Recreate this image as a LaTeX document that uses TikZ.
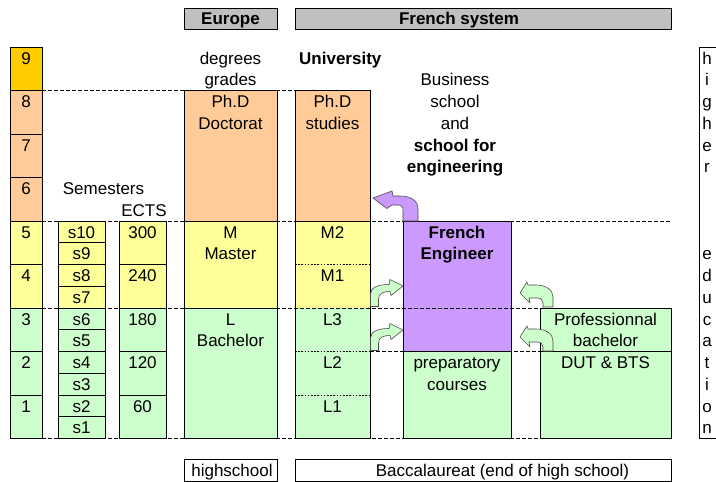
\documentclass[tikz,border=0pt]{standalone}
\usepackage{fontspec}
\setmainfont{Liberation Sans}
\definecolor{peach}{HTML}{FFCC99}
\definecolor{lyellow}{HTML}{FFFF99}
\definecolor{lgreen}{HTML}{CCFFCC}
\definecolor{lpurple}{HTML}{CC99FF}
\definecolor{gold}{HTML}{FFCC00}
\definecolor{hgrey}{HTML}{C0C0C0}
\tikzset{
  cell/.style={draw=black, line width=0.8pt},
  lbl/.style={font=\fontsize{17}{20}\selectfont, anchor=base, inner sep=0pt},
  blbl/.style={font=\fontsize{17}{20}\selectfont\bfseries, anchor=base, inner sep=0pt},
  hdr/.style={cell, fill=hgrey, inner sep=0pt, anchor=north west},
  foot/.style={cell, fill=white, inner sep=0pt, anchor=north west},
  sepline/.style={line width=0.8pt, dash pattern=on 4pt off 2pt},
  dotline/.style={line width=0.8pt, dash pattern=on 1.6pt off 1.6pt},
  garrow/.style={fill=lgreen, draw=black!70, line width=0.6pt, line join=round},
  parrow/.style={fill=lpurple, draw=black!70, line width=0.6pt, line join=round},
}
\begin{document}
\begin{tikzpicture}[x=1pt,y=-1pt]
\useasboundingbox (0,0) rectangle (716,482);
\clip (0,0) rectangle (716,482);
\fill[white] (0,0) rectangle (716,482);

% headers
\node[hdr, minimum width=93pt, minimum height=21pt] (europe) at (184,8) {};
\node[blbl] (europetxt) at (230.5,24) {Europe};
\node[hdr, minimum width=376pt, minimum height=21pt] (french) at (295,8) {};
\node[blbl] (frenchtxt) at (459,24) {French system};

% year column
\foreach \k/\c/\n in {0/gold/9, 2/peach/8, 4/peach/7, 6/peach/6, 8/lyellow/5, 10/lyellow/4, 12/lgreen/3, 14/lgreen/2, 16/lgreen/1}{
  \draw[cell, fill=\c] (10,{47+21.75*\k}) rectangle (42,{47+21.75*(\k+2)});
  \node[lbl] (year\n) at (26,{64+21.75*\k}) {\n};
}
% semesters
\foreach \k/\c/\n in {8/lyellow/10, 9/lyellow/9, 10/lyellow/8, 11/lyellow/7, 12/lgreen/6, 13/lgreen/5, 14/lgreen/4, 15/lgreen/3, 16/lgreen/2, 17/lgreen/1}{
  \draw[cell, fill=\c] (58,{47+21.75*\k}) rectangle (105,{47+21.75*(\k+1)});
  \node[lbl] (sem\n) at (81.5,{64+21.75*\k}) {s\n};
}
% ECTS
\foreach \k/\c/\n in {8/lyellow/300, 10/lyellow/240, 12/lgreen/180, 14/lgreen/120, 16/lgreen/60}{
  \draw[cell, fill=\c] (119,{47+21.75*\k}) rectangle (166,{47+21.75*(\k+2)});
  \node[lbl] (ects\n) at (142.5,{64+21.75*\k}) {\n};
}
% Europe column
\draw[cell, fill=peach] (184,90.5) rectangle (277,221);
\draw[cell, fill=lyellow] (184,221) rectangle (277,308);
\draw[cell, fill=lgreen] (184,308) rectangle (277,438.5);
% University column
\draw[cell, fill=peach] (295,90.5) rectangle (370,221);
\fill[lyellow] (295,221) rectangle (370,308);
\fill[lgreen] (295,308) rectangle (370,438.5);
\draw[cell] (295,221) rectangle (370,438.5);
\draw[dotline] (295,264.5) -- (370,264.5);
\draw[dotline] (295,351.5) -- (370,351.5);
\draw[dotline] (295,395) -- (370,395);
% French engineer column
\draw[cell, fill=lpurple] (403,221) rectangle (511,351.5);
\draw[cell, fill=lgreen] (403,351.5) rectangle (511,438.5);
% professional column
\draw[cell, fill=lgreen] (540,308) rectangle (671,438.5);
\draw[cell] (540,351.5) -- (671,351.5);
% right box
\draw[cell, fill=white] (699,47) rectangle (730,438.5);

% separators
\draw[sepline] (42,90.5) -- (295,90.5);
\draw[sepline] (42,221) -- (671,221);
\draw[sepline] (42,308) -- (540,308);
\draw[sepline] (370,351.5) -- (540,351.5);
\draw[sepline] (42,438.5) -- (671,438.5);

% footer
\node[foot, minimum width=93pt, minimum height=22pt] (highschool) at (184,459) {};
\node[lbl] (hstxt) at (232,476) {highschool};
\node[foot, minimum width=376pt, minimum height=22pt] (bac) at (295,459) {};
\node[lbl] (bactxt) at (502.5,476) {Baccalaureat (end of high school)};

% texts
\node[lbl] (degrees) at (230.5,64) {degrees};
\node[lbl] (grades) at (230.5,85.75) {grades};
\node[blbl, anchor=base west] (univ) at (299,64) {University};
\node[lbl] (business) at (455,85.75) {Business};
\node[lbl] (school) at (455,107.5) {school};
\node[lbl] (and) at (455,129.25) {and};
\node[blbl] (schoolfor) at (455,151) {school for};
\node[blbl] (engineering) at (455,172.75) {engineering};
\node[lbl] (semesters) at (103.5,194.5) {Semesters};
\node[lbl] (ectslbl) at (144,216.25) {ECTS};

\node[lbl] (phd) at (230.5,107.5) {Ph.D};
\node[lbl] (doctorat) at (230.5,129.25) {Doctorat};
\node[lbl] (m) at (230.5,238) {M};
\node[lbl] (master) at (230.5,259.75) {Master};
\node[lbl] (l) at (230.5,325) {L};
\node[lbl] (bachelor) at (230.5,346.75) {Bachelor};

\node[lbl] (phdu) at (332.5,107.5) {Ph.D};
\node[lbl] (studies) at (332.5,129.25) {studies};
\node[lbl] (m2) at (332.5,238) {M2};
\node[lbl] (m1) at (332.5,281.5) {M1};
\node[lbl] (l3) at (332.5,325) {L3};
\node[lbl] (l2) at (332.5,368.5) {L2};
\node[lbl] (l1) at (332.5,412) {L1};

\node[blbl] (fr) at (457,238) {French};
\node[blbl] (eng) at (457,259.75) {Engineer};
\node[lbl] (prep) at (457,368.5) {preparatory};
\node[lbl] (courses) at (457,390.25) {courses};

\node[lbl] (prof) at (605.5,325) {Professionnal};
\node[lbl] (pbach) at (605.5,346.75) {bachelor};
\node[lbl] (dut) at (605.5,368.5) {DUT \& BTS};

\foreach \k/\t in {0/h,1/i,2/g,3/h,4/e,5/r,9/e,10/d,11/u,12/c,13/a,14/t,15/i,16/o,17/n}{
  \node[lbl] (side\k) at (707,{64+21.75*\k}) {\t};
}

% curved arrows
\path[parrow] (418,221) -- (418,209) .. controls (418,200) and (410,196) .. (400,196) -- (393,196) -- (392,191) -- (373,198) -- (387,208.5) -- (392,205) -- (399,205) .. controls (402,205) and (403,207) .. (403,211) -- (403,221) -- cycle;
\foreach \dy in {0,44}{
  \begin{scope}[yshift={-\dy pt}]
  \path[garrow] (370.5,306.5) -- (370.5,294) .. controls (370.5,287.5) and (378,284.5) .. (389,284.5) -- (390,279.5) -- (403,286) -- (391,295.5) -- (390,291.5) .. controls (384,291.5) and (378.5,293) .. (378.5,299) -- (378.5,306.5) -- cycle;
  \path[garrow] (553,307) -- (553,297) .. controls (553,290) and (546,285) .. (536,285) -- (528,285) -- (527,282) -- (520,293) -- (530,303) -- (529,298) -- (537,298) .. controls (541,298) and (543,300) .. (543,303) -- (543,307) -- cycle;
  \end{scope}
}
\end{tikzpicture}
\end{document}
